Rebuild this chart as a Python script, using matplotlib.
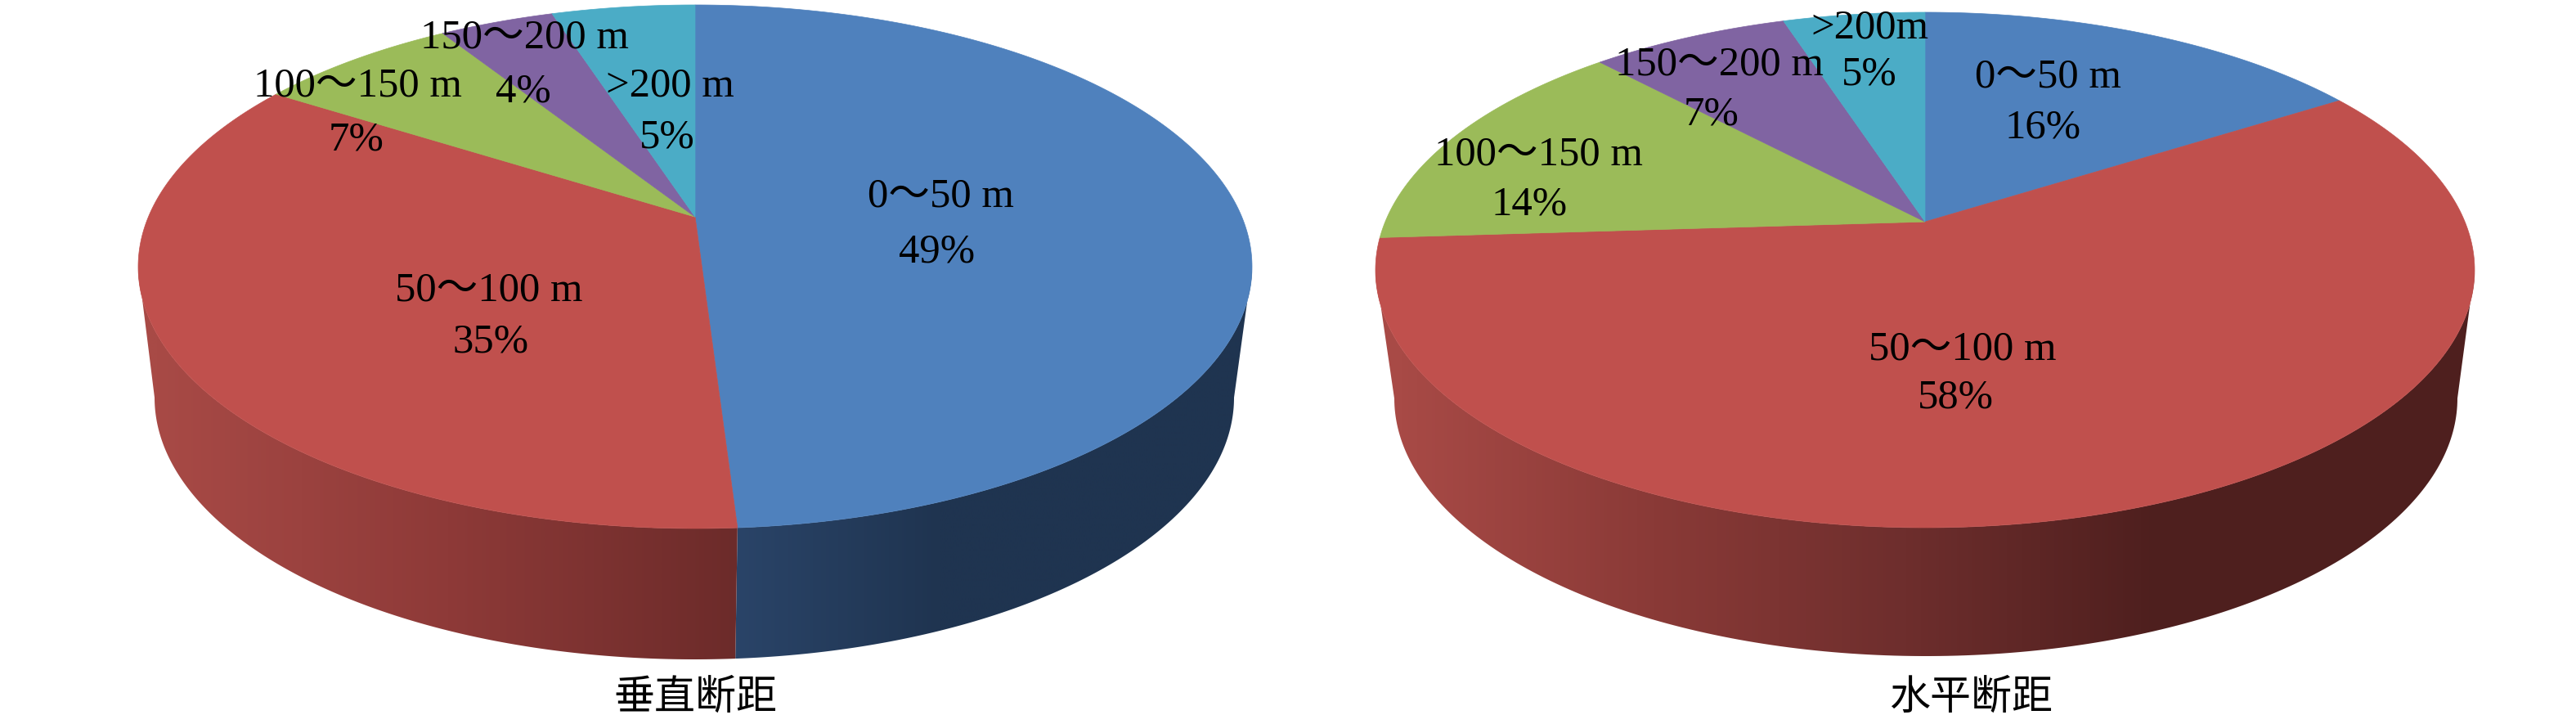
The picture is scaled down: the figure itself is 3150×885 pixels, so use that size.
import numpy as np
import matplotlib
matplotlib.use("Agg")
import matplotlib.pyplot as plt
from matplotlib.colors import LinearSegmentedColormap
from matplotlib.patches import Polygon

plt.rcParams['font.family'] = ['Liberation Serif', 'Noto Sans CJK SC', 'DejaVu Sans']

# data
categories = ["0～50 m", "50～100 m", "100～150 m", "150～200 m", ">200 m"]
categories_right = ["0～50 m", "50～100 m", "100～150 m", "150～200 m", ">200m"]
vertical_pct = [49, 35, 7, 4, 5]
horizontal_pct = [16, 58, 14, 7, 5]
titles = ["垂直断距", "水平断距"]

top_colors = ["#4f81bd", "#c0504d", "#9bbb59", "#8064a2", "#4bacc6"]


def project(theta, cx, cy, a, b, t):
    # perspective view of the unit circle, the pie centre lands at v=t
    u = np.sin(theta)
    v = np.cos(theta)
    d = 1 + t * v
    uu = u * np.sqrt(1 - t ** 2) / d
    vv = (v + t) / d
    return cx + a * uu, cy - b * vv


def draw_pie(ax, pct, labels, geo, wall_cmaps, label_pos, title, title_pos):
    cx, cy, a, b, t = geo["top"]
    cx2, cy2, a2, b2 = geo["low"]
    fr = np.array(pct) / sum(pct) * 2 * np.pi
    edges = np.concatenate([[0], np.cumsum(fr)])
    # angles where the outline is widest, the wall is only seen between them
    fold = np.arccos(-t)
    lo_vis, hi_vis = fold, 2 * np.pi - fold

    for i in range(len(pct)):
        s = max(edges[i], lo_vis)
        e = min(edges[i + 1], hi_vis)
        if e <= s or wall_cmaps[i] is None:
            continue
        th = np.linspace(s, e, 200)
        x1, y1 = project(th, cx, cy, a, b, t)
        x2, y2 = project(th, cx2, cy2, a2, b2, t)
        pts = np.column_stack([np.r_[x1, x2[::-1]], np.r_[y1, y2[::-1]]])
        x0, x9 = pts[:, 0].min(), pts[:, 0].max()
        y0, y9 = pts[:, 1].min(), pts[:, 1].max()
        cmap, g0, g1 = wall_cmaps[i]
        xs = np.linspace(x0, x9, 400)
        grad = np.clip((xs - g0) / (g1 - g0), 0, 1)[None, :]
        im = ax.imshow(grad, cmap=cmap, vmin=0, vmax=1, aspect="auto",
                       extent=[x0, x9, y9, y0], zorder=1, interpolation="bilinear")
        im.set_clip_path(Polygon(pts, closed=True, transform=ax.transData))

    for i in range(len(pct)):
        th = np.linspace(edges[i], edges[i + 1], 300)
        x1, y1 = project(th, cx, cy, a, b, t)
        apex_x, apex_y = cx, cy - b * t
        ax.fill(np.r_[apex_x, x1], np.r_[apex_y, y1], color=top_colors[i],
                lw=0.5, zorder=2)

    for i in range(len(pct)):
        (lx, ly), (px, py) = label_pos[i]
        ax.text(lx, ly, labels[i], fontsize=36.5, ha="center", va="center", color="black", zorder=3)
        ax.text(px, py, f"{pct[i]}%", fontsize=36.5, ha="center", va="center", color="black", zorder=3)
    ax.text(title_pos[0], title_pos[1], title, fontsize=36, ha="center", va="center", color="black", zorder=3)


fig = plt.figure(figsize=(31.5, 8.85), dpi=100)
ax = fig.add_axes([0, 0, 1, 1])

red_left = LinearSegmentedColormap.from_list("rl", ["#a84a46", "#8e3a38", "#6c2b2a"])
blue_left = LinearSegmentedColormap.from_list("bl", ["#2a4468", "#1f3450"])
red_right = LinearSegmentedColormap.from_list("rr", ["#a84a46", "#8a3a37", "#6e2e2d", "#4e1f1e"])

left_geo = {"top": (850, 326, 681, 320, 0.19), "low": (849, 486, 660, 320)}
right_geo = {"top": (2354, 330, 672, 315, 0.187), "low": (2355, 487, 650, 315)}

left_pos = [((1150, 240), (1146, 308)), ((598, 355), (600, 418)), ((437, 105), (436, 171)),
            ((641, 46), (640, 112)), ((819, 105), (816, 168))]
right_pos = [((2504, 94), (2498, 156)), ((2400, 427), (2391, 486)), ((1881, 189), (1870, 250)),
             ((2102, 79), (2093, 140)), ((2286, 34), (2286, 91))]

draw_pie(ax, vertical_pct, categories, left_geo,
         [(blue_left, 900, 1150), (red_left, 190, 905), None, None, None],
         left_pos, titles[0], (850, 855))
draw_pie(ax, horizontal_pct, categories_right, right_geo,
         [None, (red_right, 1710, 2640), None, None, None],
         right_pos, titles[1], (2410, 855))

ax.set_xlim(0, 3150)
ax.set_ylim(885, 0)
ax.axis("off")
fig.savefig("out.png", dpi=100, facecolor="white")
